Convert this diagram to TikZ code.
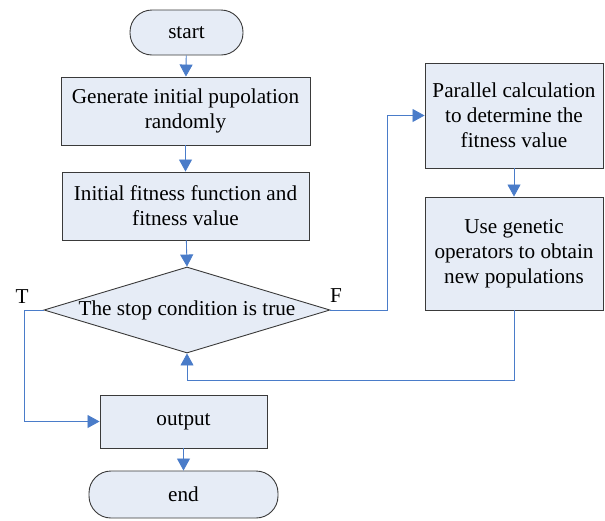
\documentclass[tikz,border=0pt]{standalone}
\usepackage{fontspec}
\setmainfont{Liberation Serif}
\usetikzlibrary{shapes.geometric,arrows.meta}
\definecolor{boxfill}{HTML}{E6ECF6}
\definecolor{boxline}{HTML}{3A3A3A}
\definecolor{flow}{HTML}{4A7CC9}
\tikzset{
  box/.style={draw=boxline, fill=boxfill, line width=0.9pt, align=center, inner sep=0pt},
  term/.style={box, rounded corners=22pt},
  cond/.style={box, shape=diamond, aspect=3.33},
  link/.style={draw=flow, line width=0.85pt, -{Triangle[length=12pt,width=13pt]}},
  lbl/.style={inner sep=0pt}
}
\begin{document}
\begin{tikzpicture}[x=1pt, y=-1pt, font=\fontsize{21.2}{25}\selectfont]
\useasboundingbox (0,0) rectangle (605,520);
\node[term, minimum width=113pt, minimum height=45pt] (start) at (186.5,32.5) {start};
\node[box, minimum width=249pt, minimum height=68pt] (gen) at (185.5,111) {Generate initial pupolation\\randomly};
\node[box, minimum width=247pt, minimum height=68pt] (fit) at (185.5,206) {Initial fitness function and\\fitness value};
\node[cond, minimum width=286pt, minimum height=86pt] (dia) at (187,310) {The stop condition is true};
\node[box, minimum width=167pt, minimum height=53pt] (out) at (183.5,421.5) {output};
\node[term, minimum width=189pt, minimum height=47pt] (end) at (183.5,494.5) {end};
\node[box, minimum width=178pt, minimum height=105pt] (par) at (514,115.5) {Parallel calculation\\to determine the\\fitness value};
\node[box, minimum width=178pt, minimum height=113pt] (ops) at (514,253.5) {Use genetic\\operators to obtain\\new populations};
\node[lbl] (T) at (22,297) {T};
\node[lbl] (F) at (336,296) {F};
\draw[link] (start) -- (gen);
\draw[link] (gen) -- (fit);
\draw[link] (fit) -- (dia.north);
\draw[link] (out) -- (end);
\draw[link] (par) -- (ops);
\draw[link] (dia.east) -- ++(57,0) |- (par.west);
\draw[link] (ops.south) -- ++(0,70) -| (dia.south);
\draw[link] (dia.west) -- ++(-19,0) |- (out.west);
\end{tikzpicture}
\end{document}
